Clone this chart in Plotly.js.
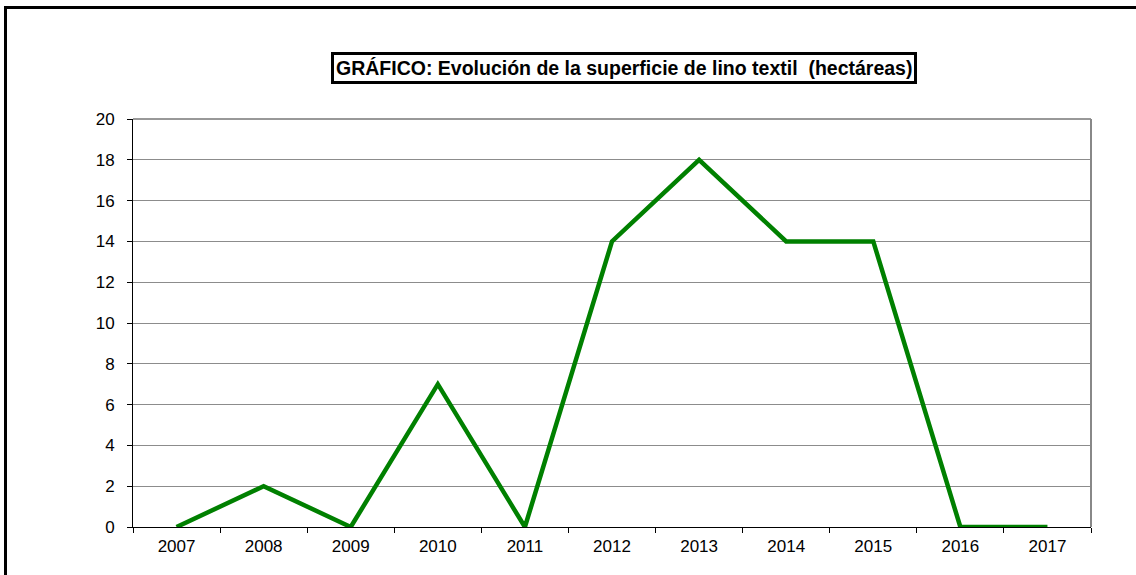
<!DOCTYPE html>
<html>
<head>
<meta charset="utf-8">
<script src="https://cdn.plot.ly/plotly-3.0.1.min.js"></script>
<style>
html,body{margin:0;padding:0;background:#fff;}
#wrap{position:relative;width:1136px;height:575px;}
#chart{width:1136px;height:575px;}
#frame{position:absolute;left:4px;top:6px;width:1140px;height:567px;border-left:3px solid #000;border-top:3px solid #000;border-bottom:1px solid #888;pointer-events:none;}
</style>
</head>
<body>
<div id="wrap">
<div id="chart"></div>
<div id="frame"></div>
</div>
<script>
const years = ['2007','2008','2009','2010','2011','2012','2013','2014','2015','2016','2017'];
const hectares = [0, 2, 0, 7, 0, 14, 18, 14, 14, 0, 0];
const titleText = 'GRÁFICO: Evolución de la superficie de lino textil  (hectáreas)';

const trace = {
  x: years, y: hectares, type: 'scatter', mode: 'lines',
  line: {color: '#008000', width: 4.5},
  hoverinfo: 'x+y'
};
const layout = {
  width: 1136, height: 575,
  margin: {l: 133, r: 45, t: 119, b: 48},
  paper_bgcolor: '#fff', plot_bgcolor: '#fff',
  font: {family: 'Liberation Sans, Arial, sans-serif', size: 17, color: '#000'},
  showlegend: false,
  xaxis: {
    type: 'category', range: [-0.5, 10.5],
    showline: true, linecolor: '#000', linewidth: 1,
    ticks: 'outside', ticklen: 5, tickcolor: '#000', tickson: 'boundaries',
    ticklabelstandoff: 4,
    tickfont: {size: 17},
    showgrid: false, zeroline: false, fixedrange: true
  },
  yaxis: {
    range: [0, 20], tickvals: [0,2,4,6,8,10,12,14,16,18,20],
    showline: true, linecolor: '#000', linewidth: 1,
    ticks: 'outside', ticklen: 5, tickcolor: '#000',
    ticklabelstandoff: 9,
    tickfont: {size: 17},
    showgrid: true, gridcolor: '#8c8c8c', gridwidth: 1,
    zeroline: false, fixedrange: true
  },
  shapes: [
    {type: 'line', xref: 'paper', yref: 'paper', x0: 0, x1: 1, y0: 1, y1: 1, line: {color: '#333', width: 1}},
    {type: 'line', xref: 'paper', yref: 'paper', x0: 1, x1: 1, y0: 0, y1: 1, line: {color: '#888', width: 2}}
  ],
  annotations: [{
    text: '<b>' + titleText + '</b>',
    xref: 'paper', yref: 'paper', x: 0.5125, y: 1, yshift: 51.5,
    xanchor: 'center', yanchor: 'middle', showarrow: false,
    font: {family: 'Liberation Sans, Arial, sans-serif', size: 19.5, color: '#000'},
    bordercolor: '#000', borderwidth: 3, borderpad: 2, bgcolor: '#fff'
  }]
};
Plotly.newPlot('chart', [trace], layout, {displayModeBar: false, staticPlot: true});
</script>
</body>
</html>
